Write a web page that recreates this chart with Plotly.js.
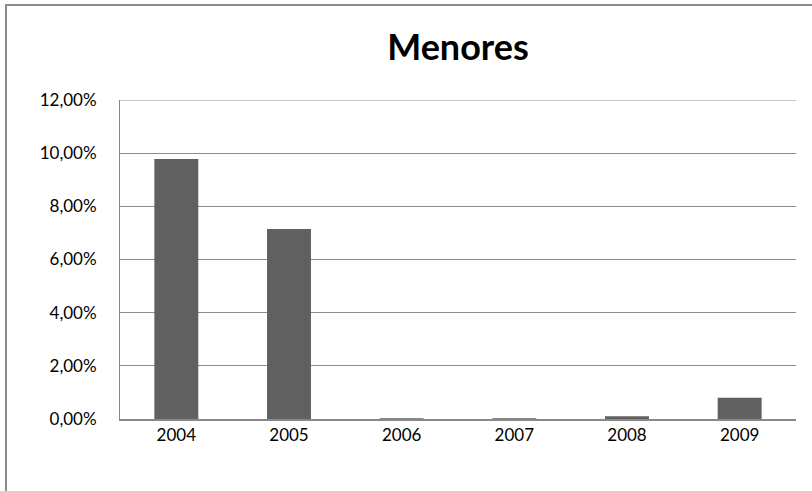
<!DOCTYPE html>
<html><head><meta charset="utf-8">
<script src="https://cdn.plot.ly/plotly-3.0.1.min.js"></script>
<style>
body{margin:0;background:#fff;overflow:hidden;}
#frame{position:absolute;left:5px;top:4px;width:900px;height:600px;border-left:2px solid #8c8c8c;border-top:2px solid #8c8c8c;}
#chart{position:absolute;left:0;top:0;width:812px;height:491px;}
</style></head>
<body>
<div id="frame"></div>
<div id="chart"></div>
<script>
const years = ['2004','2005','2006','2007','2008','2009'];
const values = [0.0978, 0.0715, 0.0003, 0.0003, 0.0010, 0.0080];
const yTicks = [0,0.02,0.04,0.06,0.08,0.10,0.12];
const yTickLabels = ['0,00%','2,00%','4,00%','6,00%','8,00%','10,00%','12,00%'];
const yMax = 0.12;

Plotly.newPlot('chart', [{
  type:'bar', x:years, y:values,
  marker:{color:'#606060'},
  hoverinfo:'skip'
}], {
  width:812, height:491,
  margin:{l:120,r:16,t:100,b:72,pad:0},
  paper_bgcolor:'rgba(0,0,0,0)', plot_bgcolor:'rgba(0,0,0,0)',
  bargap:0.61,
  font:{family:'Lato, Carlito, Calibri, sans-serif', color:'#000', size:17},
  title:{text:'<b>Menores</b>', x:0.5, xref:'paper', y:0.903, yanchor:'middle', font:{size:36, family:'Lato, Carlito, Calibri, sans-serif'}},
  xaxis:{type:'category', showline:true, linecolor:'#888', linewidth:2, ticks:'', tickfont:{size:17}, showgrid:false, fixedrange:true},
  yaxis:{range:[0,yMax], tickvals:yTicks, ticktext:yTickLabels, showgrid:true, gridcolor:'#8c8c8c', gridwidth:1,
         showline:true, linecolor:'#888', linewidth:1, ticks:'', tickfont:{size:17}, zeroline:false, fixedrange:true, ticklabelstandoff:19},
  shapes:[{type:'line', xref:'paper', yref:'y', x0:0, x1:1, y0:yMax, y1:yMax, line:{color:'#8c8c8c', width:1}}]
}, {staticPlot:true});
</script>
</body></html>
